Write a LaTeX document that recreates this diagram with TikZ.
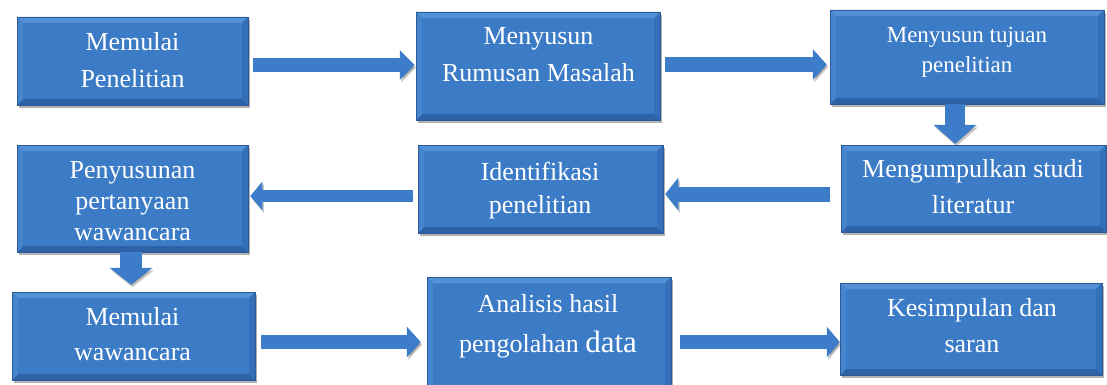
\documentclass[tikz,border=0pt]{standalone}
\usepackage{fontspec}
\setmainfont{Liberation Serif}
\usetikzlibrary{arrows.meta,shadows,calc}
\definecolor{boxmid}{RGB}{60,124,199}
\definecolor{boxtop}{RGB}{84,146,216}
\definecolor{boxleft}{RGB}{68,133,206}
\definecolor{boxright}{RGB}{52,112,186}
\definecolor{boxbot}{RGB}{46,98,166}
\definecolor{boxedge}{RGB}{44,90,150}
\definecolor{arrowblue}{RGB}{60,124,200}
\definecolor{arrowhi}{RGB}{98,158,222}
\tikzset{
  box/.style={draw=boxedge, line width=0.5pt, fill=boxmid, inner sep=0pt,
    drop shadow={shadow xshift=2pt, shadow yshift=-3pt, opacity=0.3, fill=black},
    path picture={
      \coordinate (nw) at (path picture bounding box.north west);
      \coordinate (ne) at (path picture bounding box.north east);
      \coordinate (sw) at (path picture bounding box.south west);
      \coordinate (se) at (path picture bounding box.south east);
      \fill[boxtop] (nw) -- (ne) -- ([shift={(-6pt,-6pt)}]ne) -- ([shift={(6pt,-6pt)}]nw) -- cycle;
      \fill[boxbot] (sw) -- (se) -- ([shift={(-6pt,6pt)}]se) -- ([shift={(6pt,6pt)}]sw) -- cycle;
      \fill[boxleft] (nw) -- (sw) -- ([shift={(6pt,6pt)}]sw) -- ([shift={(6pt,-6pt)}]nw) -- cycle;
      \fill[boxright] (ne) -- (se) -- ([shift={(-6pt,6pt)}]se) -- ([shift={(-6pt,-6pt)}]ne) -- cycle;
    }},
  txt/.style={text=white, align=center, inner sep=0pt},
  fat/.style args={#1/#2/#3}{line width=#1pt, draw=arrowblue,
    -{Triangle[width=#2pt,length=#3pt]},
    preaction={draw=black, opacity=0.22, transform canvas={xshift=1.5pt,yshift=-2.5pt}}}
}
\begin{document}
\begin{tikzpicture}[x=1pt,y=-1pt]
\useasboundingbox (0,0) rectangle (1107,385);
\fill[white] (0,0) rectangle (1107,385);

% boxes
\node[box, minimum width=231pt, minimum height=88pt]  (b1) at (132.5,61) {};
\node[box, minimum width=244pt, minimum height=108pt] (b2) at (538,66) {};
\node[box, minimum width=274pt, minimum height=94pt]  (b3) at (967,57) {};
\node[box, minimum width=265pt, minimum height=87pt]  (b4) at (973.5,188.5) {};
\node[box, minimum width=245pt, minimum height=88pt]  (b5) at (540.5,189) {};
\node[box, minimum width=231pt, minimum height=107pt] (b6) at (132.5,198.5) {};
\node[box, minimum width=243pt, minimum height=88pt]  (b7) at (133.5,336) {};
\node[box, minimum width=244pt, minimum height=118pt] (b8) at (549,336) {};
\node[box, minimum width=262pt, minimum height=92pt]  (b9) at (971,329) {};

% texts
\node[txt, font=\fontsize{26}{37}\selectfont] (t1) at (132.5,62) {\strut Memulai\\\strut Penelitian};
\node[txt, font=\fontsize{26}{37}\selectfont] (t2) at (538.5,56) {\strut Menyusun\\\strut Rumusan Masalah};
\node[txt, font=\fontsize{23}{30}\selectfont] (t3) at (967,52) {\strut Menyusun tujuan\\\strut penelitian};
\node[txt, font=\fontsize{26}{36}\selectfont] (t4) at (973,188) {\strut Mengumpulkan studi\\\strut literatur};
\node[txt, font=\fontsize{26}{33}\selectfont] (t5) at (540,190) {\strut Identifikasi\\\strut penelitian};
\node[txt, font=\fontsize{26}{31}\selectfont] (t6) at (132.5,203) {\strut Penyusunan\\\strut pertanyaan\\\strut wawancara};
\node[txt, font=\fontsize{26}{35}\selectfont] (t7) at (132.5,335.5) {\strut Memulai\\\strut wawancara};
\node[txt, font=\fontsize{26}{40}\selectfont] (t8) at (548,324) {\strut Analisis hasil\\\strut pengolahan {\fontsize{31}{40}\selectfont data}};
\node[txt, font=\fontsize{26}{36}\selectfont] (t9) at (972,327) {\strut Kesimpulan dan\\\strut saran};

% arrows
\draw[fat=14/29/15, shorten <=5pt, shorten >=1pt] ($(b1.east)+(0,4)$) -- ($(b2.west)+(0,-1)$);
\draw[fat=15/30/14, shorten <=5pt, shorten >=3pt] ($(b2.east)+(0,-1.5)$) -- ($(b3.west)+(0,7.5)$);
\draw[fat=20/42/19, shorten >=1pt] ($(b3.south)+(-12,0)$) -- ($(b4.north)+(-18.5,0)$);
\draw[fat=15/32/13, shorten <=11pt, shorten >=2pt] ($(b4.west)+(0,5.5)$) -- ($(b5.east)+(0,5)$);
\draw[fat=12/28/12, shorten <=5pt, shorten >=2pt] ($(b5.west)+(0,7)$) -- ($(b6.east)+(0,-2.5)$);
\draw[fat=22/42/17, shorten >=7pt] ($(b6.south)+(-1.5,0)$) -- ($(b7.north)+(-2.5,0)$);
\draw[fat=14/30/14, shorten <=6pt, shorten >=6pt] ($(b7.east)+(0,6)$) -- ($(b8.west)+(0,6)$);
\draw[fat=14/30/13, shorten <=9pt] ($(b8.east)+(0,6)$) -- ($(b9.west)+(0,13)$);
\end{tikzpicture}
\end{document}
